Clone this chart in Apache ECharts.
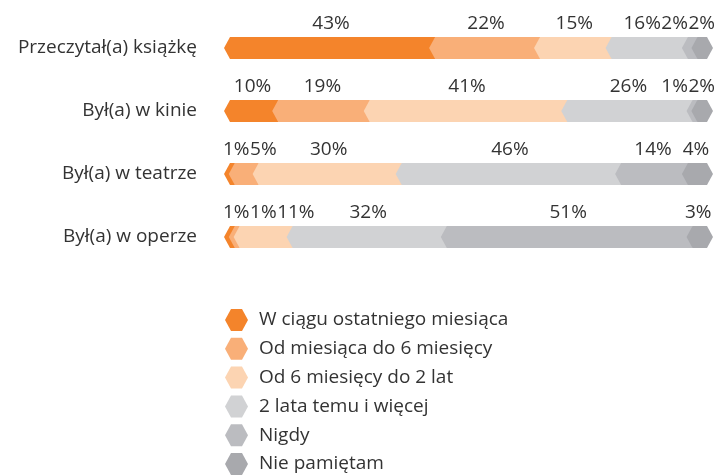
<!DOCTYPE html>
<html>
<head>
<meta charset="utf-8">
<script src="https://cdn.jsdelivr.net/npm/echarts@6/dist/echarts.min.js"></script>
<style>
  html, body { margin: 0; padding: 0; background: #fff; }
  #chart { width: 716px; height: 475px; }
</style>
</head>
<body>
<div id="chart"></div>
<script>
const rows = ['Przeczytał(a) książkę', 'Był(a) w kinie', 'Był(a) w teatrze', 'Był(a) w operze']
const seriesNames = [
  'W ciągu ostatniego miesiąca',
  'Od miesiąca do 6 miesięcy',
  'Od 6 miesięcy do 2 lat',
  '2 lata temu i więcej',
  'Nigdy',
  'Nie pamiętam'
]
const lastMonth = [43, 10, 1, 1]
const upTo6Months = [22, 19, 5, 1]
const upTo2Years = [15, 41, 30, 11]
const moreThan2Years = [16, 26, 46, 32]
const never = [2, 1, 14, 51]
const dontRemember = [2, 2, 4, 3]
const colors = ['#f4842b', '#f9af78', '#fcd4b2', '#d1d2d4', '#bbbcc0', '#a8a9ad']

const values = [lastMonth, upTo6Months, upTo2Years, moreThan2Years, never, dontRemember]

const FONT = '"Open Sans", sans-serif'
const FONT_SIZE = 19
const TIP = 6

const measureCtx = document.createElement('canvas').getContext('2d')
function textWidth(t) {
  measureCtx.font = FONT_SIZE + 'px ' + FONT
  return measureCtx.measureText(t).width
}

// percent positions along a row, rows scaled to their own total
function rowStops(r) {
  const total = values.reduce((s, v) => s + v[r], 0)
  const stops = [0]
  let acc = 0
  values.forEach(v => {
    acc += v[r]
    stops.push(acc / total * 100)
  })
  return stops
}

// label centres for one row, pushed apart so they don't overlap
function labelCenters(api, r) {
  const stops = rowStops(r)
  const items = values.map((v, i) => {
    const x0 = api.coord([stops[i], r])[0]
    const x1 = api.coord([stops[i + 1], r])[0]
    const w = textWidth(v[r] + '%')
    return { left: (x0 + x1) / 2 + 4.5 - w / 2, w }
  })
  const gap = 0.5
  let minLeft = 223
  items.forEach(it => {
    it.left = Math.max(it.left, minLeft)
    minLeft = it.left + it.w + gap
  })
  let maxRight = 715
  for (let i = items.length - 1; i >= 0; i--) {
    const it = items[i]
    if (it.left + it.w > maxRight) it.left = maxRight - it.w
    maxRight = it.left - gap
  }
  return items.map(it => it.left + it.w / 2)
}

function renderItem(params, api) {
  const s = params.seriesIndex
  const r = api.value(1)
  const stops = rowStops(r)
  const p0 = api.coord([stops[s], r])
  const p1 = api.coord([stops[s + 1], r])
  const h = 22
  const yc = p0[1]
  const top = yc - h / 2
  const bottom = yc + h / 2
  const x0 = p0[0]
  const x1 = p1[0]
  const cx = labelCenters(api, r)[s]
  return {
    type: 'group',
    children: [{
      type: 'polygon',
      shape: {
        points: [
          [x0, yc], [x0 + TIP, top], [x1 + TIP, top],
          [x1 + 2 * TIP, yc], [x1 + TIP, bottom], [x0 + TIP, bottom]
        ]
      },
      style: { fill: api.visual('color') }
    }, {
      type: 'text',
      style: {
        text: api.value(0) + '%',
        x: cx,
        y: yc - 24,
        align: 'center',
        verticalAlign: 'middle',
        fontSize: FONT_SIZE,
        fontFamily: FONT,
        fill: '#333'
      }
    }]
  }
}

const chart = echarts.init(document.getElementById('chart'), null, { renderer: 'canvas' })

const option = {
  animation: false,
  color: colors,
  grid: {
    top: 16.5,
    bottom: 206.5,
    left: 224,
    right: 15,
    outerBoundsMode: 'none'
  },
  xAxis: {
    type: 'value',
    min: 0,
    max: 100,
    show: false
  },
  yAxis: {
    type: 'category',
    data: rows,
    inverse: true,
    axisLine: { show: false },
    axisTick: { show: false },
    splitLine: { show: false },
    axisLabel: {
      margin: 27,
      color: '#333',
      fontSize: FONT_SIZE,
      fontFamily: FONT
    }
  },
  legend: {
    orient: 'vertical',
    left: 225,
    top: 309,
    height: 175,
    padding: 0,
    itemWidth: 23,
    itemHeight: 22,
    itemGap: 6.8,
    icon: 'path://M0,11 L6,0 L17,0 L23,11 L17,22 L6,22 Z',
    data: seriesNames,
    textStyle: {
      color: '#333',
      fontSize: FONT_SIZE,
      fontFamily: FONT,
      padding: [0, 0, 0, 6]
    }
  },
  series: seriesNames.map((name, i) => ({
    name: name,
    type: 'custom',
    renderItem: renderItem,
    encode: { x: 0, y: 1 },
    data: values[i].map((v, r) => [v, r])
  }))
}

chart.setOption(option)
</script>
</body>
</html>
